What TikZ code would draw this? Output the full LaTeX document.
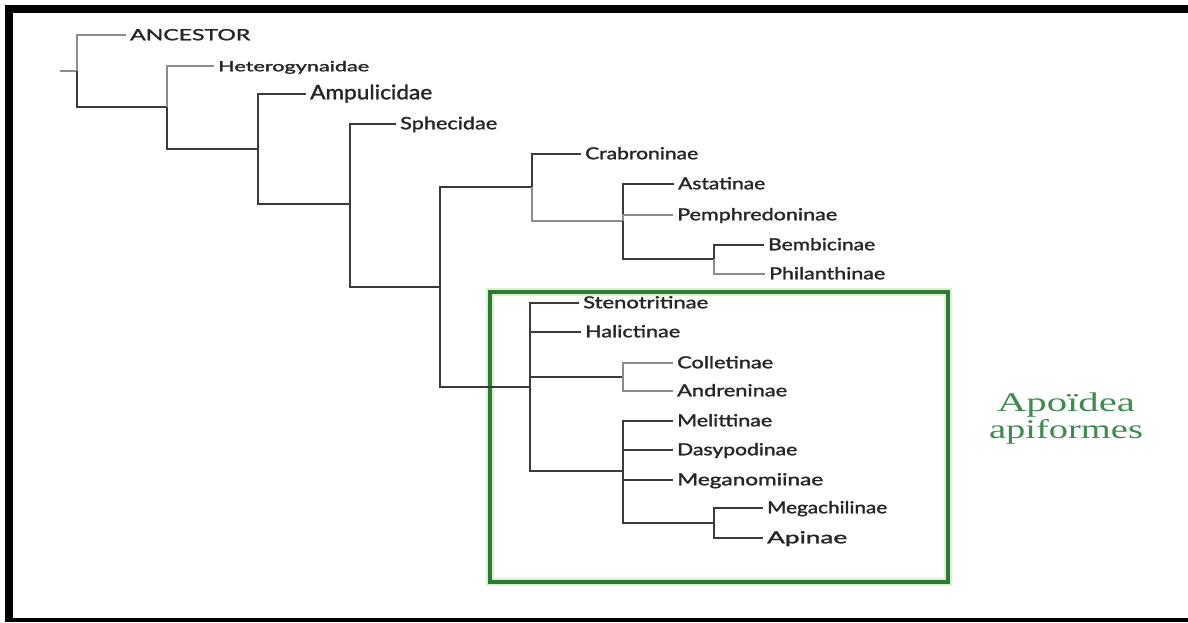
\documentclass[tikz,border=0pt]{standalone}
\usepackage{graphicx}
\usepackage{fontspec}
\newfontfamily\lbl[FakeBold=1.5]{Lato}
\newfontfamily\grn{Liberation Serif}
\newcommand\fw[2]{\resizebox{#1pt}{\height}{#2}}
\definecolor{branchc}{HTML}{3A3A3A}
\definecolor{lightc}{HTML}{8C8C8C}
\definecolor{boxc}{HTML}{2E7A34}
\definecolor{glowc}{HTML}{D8F2D0}
\definecolor{txtg}{HTML}{3F8A4E}
\begin{document}
\begin{tikzpicture}[x=1pt,y=-1pt,
  br/.style={draw=branchc,line width=1.6pt},
  lt/.style={draw=lightc,line width=1.3pt},
  leaf/.style={anchor=west,inner xsep=4pt,inner ysep=0pt,text height=1.05em,text depth=0pt,text=black!85,font=\lbl\fontsize{#1}{#1}\selectfont},
  leaf/.default=16.5]
\useasboundingbox (0,0) rectangle (1188,622);
\fill[white] (0,0) rectangle (1188,622);
% frame
\fill[black] (5,5) rectangle (13,622);
\fill[black] (5,5) rectangle (1188,13);
\fill[black] (5,618) rectangle (1188,622);
% green box
\draw[glowc,line width=8pt] (490,292) rectangle (948,582);
\draw[boxc,line width=3.6pt] (490,292) rectangle (948,582);
% junctions
\coordinate (stub) at (60,71);
\coordinate (n1) at (77,71);
\coordinate (n2) at (167,107);
\coordinate (n3) at (258,149);
\coordinate (n4) at (350,204);
\coordinate (n5) at (440,287);
\coordinate (n6) at (532,187);
\coordinate (n7) at (623,221);
\coordinate (n8) at (714,259);
\coordinate (n9) at (530,387);
\coordinate (n10) at (623,377);
\coordinate (n11) at (623,471);
\coordinate (n12) at (714,523);
% leaves
\node[leaf=15.5] (anc) at (126,35) {\fw{120}{ANCESTOR}};
\node[leaf=14] (het) at (214,66) {\fw{151}{Heterogynaidae}};
\node[leaf=20] (amp) at (306,94) {\fw{122}{Ampulicidae}};
\node[leaf=17] (sph) at (396,124) {\fw{97}{Sphecidae}};
\node[leaf] (crab) at (581,154) {\fw{113}{Crabroninae}};
\node[leaf] (ast) at (674,184) {\fw{87}{Astatinae}};
\node[leaf] (pem) at (673,215) {\fw{160}{Pemphredoninae}};
\node[leaf] (bem) at (764,245) {\fw{107}{Bembicinae}};
\node[leaf] (phi) at (765,274) {\fw{116}{Philanthinae}};
\node[leaf] (ste) at (579,303) {\fw{125}{Stenotritinae}};
\node[leaf] (hal) at (581,332) {\fw{95}{Halictinae}};
\node[leaf] (col) at (673,363) {\fw{96}{Colletinae}};
\node[leaf] (and) at (673,391) {\fw{110}{Andreninae}};
\node[leaf] (mel) at (673,421) {\fw{95}{Melittinae}};
\node[leaf] (das) at (673,450) {\fw{120}{Dasypodinae}};
\node[leaf] (meg) at (673,480) {\fw{146}{Meganomiinae}};
\node[leaf] (mgc) at (763,508) {\fw{120}{Megachilinae}};
\node[leaf] (api) at (763,538) {\fw{80}{Apinae}};
% branches
\draw[lt] (stub) -- (n1);
\draw[lt] (n1) |- (anc.west);
\draw[br] (n1) |- (n2);
\draw[lt] (n2) |- (het.west);
\draw[br] (n2) |- (n3);
\draw[br] (n3) |- (amp.west);
\draw[br] (n3) |- (n4);
\draw[br] (n4) |- (sph.west);
\draw[br] (n4) |- (n5);
\draw[br] (n5) |- (n6);
\draw[br] (n5) |- (n9);
\draw[br] (n6) |- (crab.west);
\draw[lt] (n6) |- (n7);
\draw[br] (n7) |- (ast.west);
\draw[lt] (n7) |- (pem.west);
\draw[br] (n7) |- (n8);
\draw[br] (n8) |- (bem.west);
\draw[lt] (n8) |- (phi.west);
\draw[br] (n9) |- (ste.west);
\draw[br] (n9) |- (hal.west);
\draw[br] (n9) |- (n10);
\draw[br] (n9) |- (n11);
\draw[lt] (n10) |- (col.west);
\draw[lt] (n10) |- (and.west);
\draw[br] (n11) |- (mel.west);
\draw[br] (n11) |- (das.west);
\draw[br] (n11) |- (meg.west);
\draw[br] (n11) |- (n12);
\draw[br] (n12) |- (mgc.west);
\draw[br] (n12) |- (api.west);
% label
\node[text=txtg,align=center,inner sep=0pt,font=\grn\fontsize{27}{27}\selectfont] (apo) at (1066,418) {\fw{138}{Apoïdea}\\\fw{154}{apiformes}};
\end{tikzpicture}
\end{document}
